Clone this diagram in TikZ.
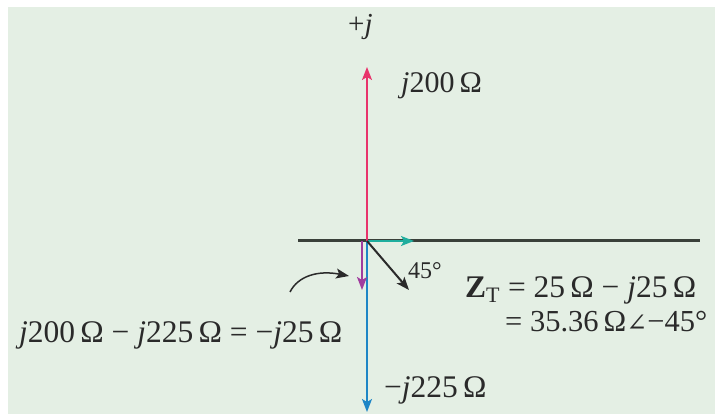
\documentclass[tikz,border=0pt]{standalone}
\usepackage{fontspec}
\setmainfont{Liberation Serif}
\newfontfamily\djv{DejaVu Serif}
\usetikzlibrary{arrows.meta}
\definecolor{bg}{HTML}{E4EFE4}
\definecolor{axis}{HTML}{3A403A}
\definecolor{redv}{HTML}{E8336B}
\definecolor{bluev}{HTML}{1E86C6}
\definecolor{tealv}{HTML}{1FAE9E}
\definecolor{purv}{HTML}{A03C9E}
\definecolor{txt}{HTML}{2A2A2A}
\begin{document}
\begin{tikzpicture}[x=1pt,y=-1pt,
  vec/.style={line width=1.5pt,-{Stealth[length=13pt,width=10pt,inset=3pt]}},
  lbl/.style={inner sep=0pt,anchor=base west,text=txt,font=\fontsize{31.5}{36}\selectfont},
  sml/.style={inner sep=0pt,anchor=base west,text=txt,font=\fontsize{29}{34}\selectfont}]
\useasboundingbox (0,0) rectangle (715,414);
\fill[white] (0,0) rectangle (715,414);
\fill[bg] (8,7) rectangle (715,414);
% coordinates
\coordinate (O) at (367,241);
\coordinate (axL) at (298,241);
\coordinate (axR) at (700,241);
\coordinate (rT) at (367,67);
\coordinate (bT) at (367,412);
\coordinate (pS) at (362,241);
\coordinate (pT) at (362,290);
\coordinate (tS) at (368,241);
\coordinate (tT) at (414,241);
\coordinate (kT) at (409,290);
\coordinate (cS) at (290,292);
\coordinate (cT) at (349,276);
% axis
\draw[axis,line width=3pt] (axL) -- (axR);
% vectors
\draw[vec,redv] (O) -- (rT);
\draw[vec,bluev] (O) -- (bT);
\draw[vec,purv] (pS) -- (pT);
\draw[vec,tealv] (tS) -- (tT);
\draw[vec,txt,line width=2pt] (O) -- (kT);
\draw[vec,txt] (cS) .. controls (298,276) and (318,270) .. (cT);
% labels
\node[sml] (pj) at (348,34) {+\textit{j}};
\node[lbl,font=\fontsize{30}{36}\selectfont] (t200) at (401,93) {\textit{j}200\,Ω};
\node[lbl] (sum) at (19,342) {\textit{j}200\,Ω − \textit{j}225\,Ω = −\textit{j}25\,Ω};
\node[lbl] (t225) at (384,397) {−\textit{j}225\,Ω};
\node[lbl] (zt1) at (465,297) {\textbf{Z}\textsubscript{T} = 25\,Ω − \textit{j}25\,Ω};
\node[lbl,font=\fontsize{30.5}{36}\selectfont] (zt2) at (505,331) {= 35.36\,Ω{\djv\fontsize{25}{30}\selectfont ∠}−45°};
\node[sml,font=\fontsize{24}{30}\selectfont] (ang) at (408,278) {45°};
\end{tikzpicture}
\end{document}
